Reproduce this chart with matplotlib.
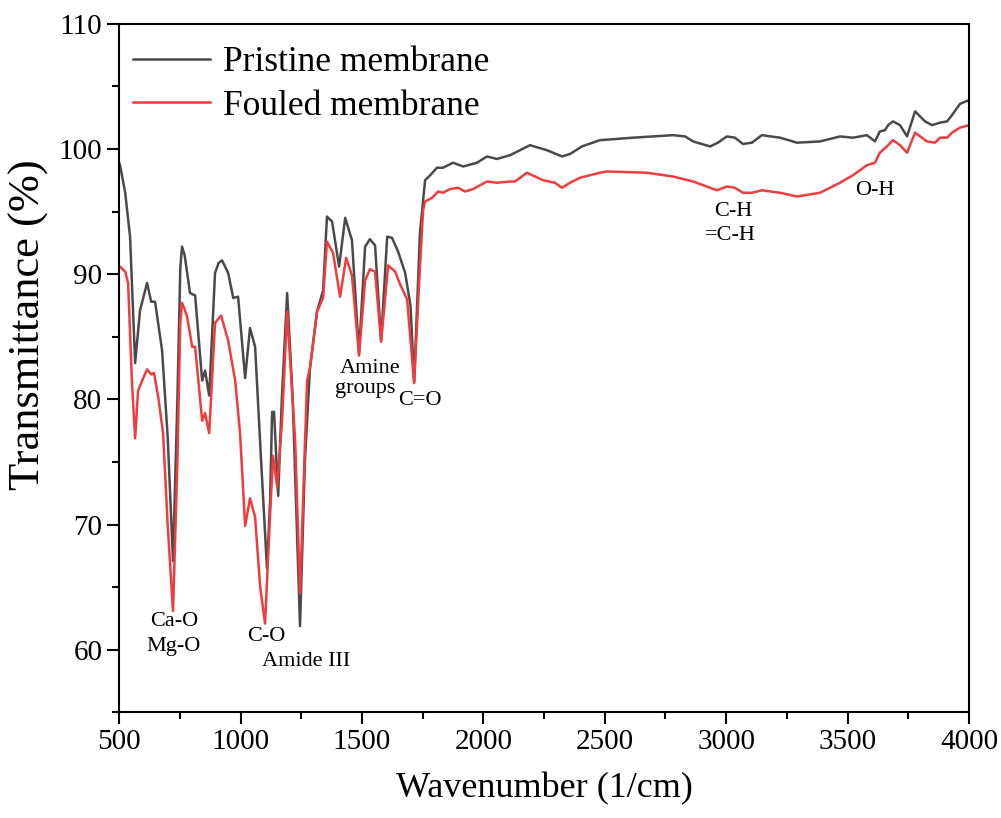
import numpy as np
import matplotlib
matplotlib.use("Agg")
from matplotlib import pyplot as plt

# %%
# FTIR spectra (wavenumber in 1/cm, transmittance in %)
wn_pristine = [500, 504, 525, 545, 566, 586, 615, 632, 648, 677, 700, 722, 740, 752, 759, 770, 792,
               813, 842, 854, 871, 895, 910, 924, 949, 970, 990, 1019, 1039, 1060, 1085, 1109, 1122,
               1130, 1138, 1155, 1170, 1192, 1215, 1245, 1265, 1286, 1315, 1340, 1356, 1377, 1406,
               1431, 1459, 1488, 1513, 1533, 1554, 1579, 1604, 1624, 1649, 1678, 1700, 1715, 1739,
               1760, 1781, 1809, 1834, 1875, 1917, 1974, 2015, 2056, 2110, 2192, 2262, 2324, 2357,
               2406, 2480, 2616, 2781, 2831, 2864, 2934, 2966, 3003, 3036, 3069, 3106, 3147, 3222,
               3292, 3386, 3469, 3522, 3580, 3613, 3633, 3654, 3667, 3687, 3716, 3745, 3778, 3819,
               3848, 3881, 3910, 3930, 3963, 4000]
t_pristine = [98.9, 98.7, 96.5, 93.0, 82.9, 87.1, 89.3, 87.8, 87.8, 83.9, 77.0, 67.1, 80.0, 90.5,
              92.2, 91.5, 88.5, 88.3, 81.5, 82.3, 80.3, 90.1, 90.9, 91.1, 90.1, 88.1, 88.2, 81.7,
              85.7, 84.2, 75.0, 66.5, 72.0, 79.0, 79.0, 72.3, 80.0, 88.5, 80.0, 61.9, 75.0, 82.5,
              87.0, 88.7, 94.6, 94.2, 90.6, 94.5, 92.7, 83.7, 92.2, 92.8, 92.3, 84.7, 93.0, 92.9,
              91.8, 90.1, 87.5, 81.4, 93.3, 97.5, 97.9, 98.5, 98.5, 98.9, 98.6, 98.9, 99.4, 99.2,
              99.5, 100.3, 99.9, 99.4, 99.6, 100.2, 100.7, 100.9, 101.1, 101.0, 100.6, 100.2,
              100.5, 101.0, 100.9, 100.4, 100.5, 101.1, 100.9, 100.5, 100.6, 101.0, 100.9, 101.1,
              100.6, 101.4, 101.5, 101.9, 102.2, 101.9, 101.0, 103.0, 102.2, 101.9, 102.1, 102.2,
              102.7, 103.6, 103.9]

wn_fouled = [500, 504, 525, 537, 553, 566, 578, 595, 615, 632, 644, 661, 681, 700, 722, 740, 752,
             759, 768, 780, 801, 813, 842, 854, 871, 895, 920, 949, 978, 998, 1019, 1039, 1060,
             1081, 1101, 1122, 1134, 1151, 1171, 1192, 1225, 1245, 1274, 1286, 1315, 1340, 1356,
             1381, 1410, 1435, 1459, 1488, 1513, 1533, 1554, 1579, 1608, 1637, 1657, 1686, 1715,
             1739, 1752, 1760, 1789, 1814, 1834, 1863, 1896, 1925, 1958, 2015, 2056, 2110, 2130,
             2180, 2246, 2295, 2324, 2357, 2398, 2480, 2509, 2674, 2781, 2864, 2962, 3003, 3036,
             3069, 3106, 3147, 3222, 3292, 3386, 3469, 3522, 3580, 3613, 3633, 3662, 3687, 3716,
             3745, 3778, 3827, 3860, 3881, 3910, 3930, 3963, 4000]
t_fouled = [90.6, 90.6, 90.2, 89.3, 81.3, 76.9, 80.7, 81.5, 82.4, 82.0, 82.1, 80.2, 77.3, 70.0,
            63.1, 75.0, 86.2, 87.7, 87.3, 86.6, 84.2, 84.2, 78.3, 78.9, 77.3, 86.1, 86.7, 84.7,
            81.5, 77.3, 69.9, 72.1, 70.6, 65.0, 62.1, 70.9, 75.5, 73.0, 78.3, 87.0, 76.7, 64.5,
            81.5, 82.5, 87.0, 88.1, 92.6, 91.7, 88.2, 91.3, 89.9, 83.5, 89.5, 90.4, 90.2, 84.6,
            90.7, 90.2, 89.2, 88.0, 81.3, 90.6, 95.1, 95.8, 96.1, 96.6, 96.5, 96.8, 96.9, 96.6,
            96.8, 97.4, 97.3, 97.4, 97.4, 98.1, 97.5, 97.3, 96.9, 97.3, 97.7, 98.1, 98.2, 98.1,
            97.8, 97.4, 96.7, 97.0, 96.9, 96.5, 96.5, 96.7, 96.5, 96.2, 96.5, 97.3, 97.9, 98.7,
            98.9, 99.7, 100.2, 100.7, 100.3, 99.7, 101.3, 100.6, 100.5, 100.9, 100.9, 101.3,
            101.7, 101.9]

# peak assignments
labels = ['Ca-O', 'Mg-O', 'C-O', 'Amide III', 'Amine', 'groups', 'C=O', 'C-H', '=C-H', 'O-H']
label_x = [726, 726, 1105, 1270, 1533, 1513, 1739, 3028, 3016, 3613]
label_y = [62.3, 60.3, 61.1, 59.1, 82.5, 80.9, 79.9, 95.0, 93.1, 96.7]

# %%
plt.rcParams['font.family'] = ['Liberation Serif', 'DejaVu Serif']

fig = plt.figure(figsize=(10.01, 8.18), dpi=100)
ax = fig.add_axes([0.119, 0.129, 0.849, 0.842])

ax.plot(wn_pristine, t_pristine, color='#4a4a4a', lw=1.8, label='Pristine membrane')
ax.plot(wn_fouled, t_fouled, color='#f03c3c', lw=1.8, label='Fouled membrane')

for txt, x, y in zip(labels, label_x, label_y):
    ax.text(x, y, txt, fontsize=16, ha='center', va='center')

ax.set_xlim(500, 4000)
ax.set_ylim(55, 110)
ax.set_xticks(np.arange(500, 4001, 500))
ax.set_xticks(np.arange(750, 4000, 500), minor=True)
ax.set_yticks(np.arange(60, 111, 10))
ax.set_yticks(np.arange(55, 110, 10), minor=True)
ax.tick_params(which='major', direction='out', length=8.5, width=1.5, labelsize=21)
ax.tick_params(which='minor', direction='out', length=5, width=1.5)
for s in ax.spines.values():
    s.set_linewidth(1.5)

ax.set_xlabel('Wavenumber (1/cm)', fontsize=26, labelpad=12)
ax.set_ylabel('Transmittance (%)', fontsize=32)
ax.yaxis.set_label_coords(-0.082, 0.563)

ax.legend(loc='upper left', fontsize=25.5, frameon=False, handlelength=2.2,
          borderaxespad=0.1, labelspacing=0.3, handletextpad=0.35,
          bbox_to_anchor=(-0.005, 0.993))

fig.savefig('out.png', dpi=100)
